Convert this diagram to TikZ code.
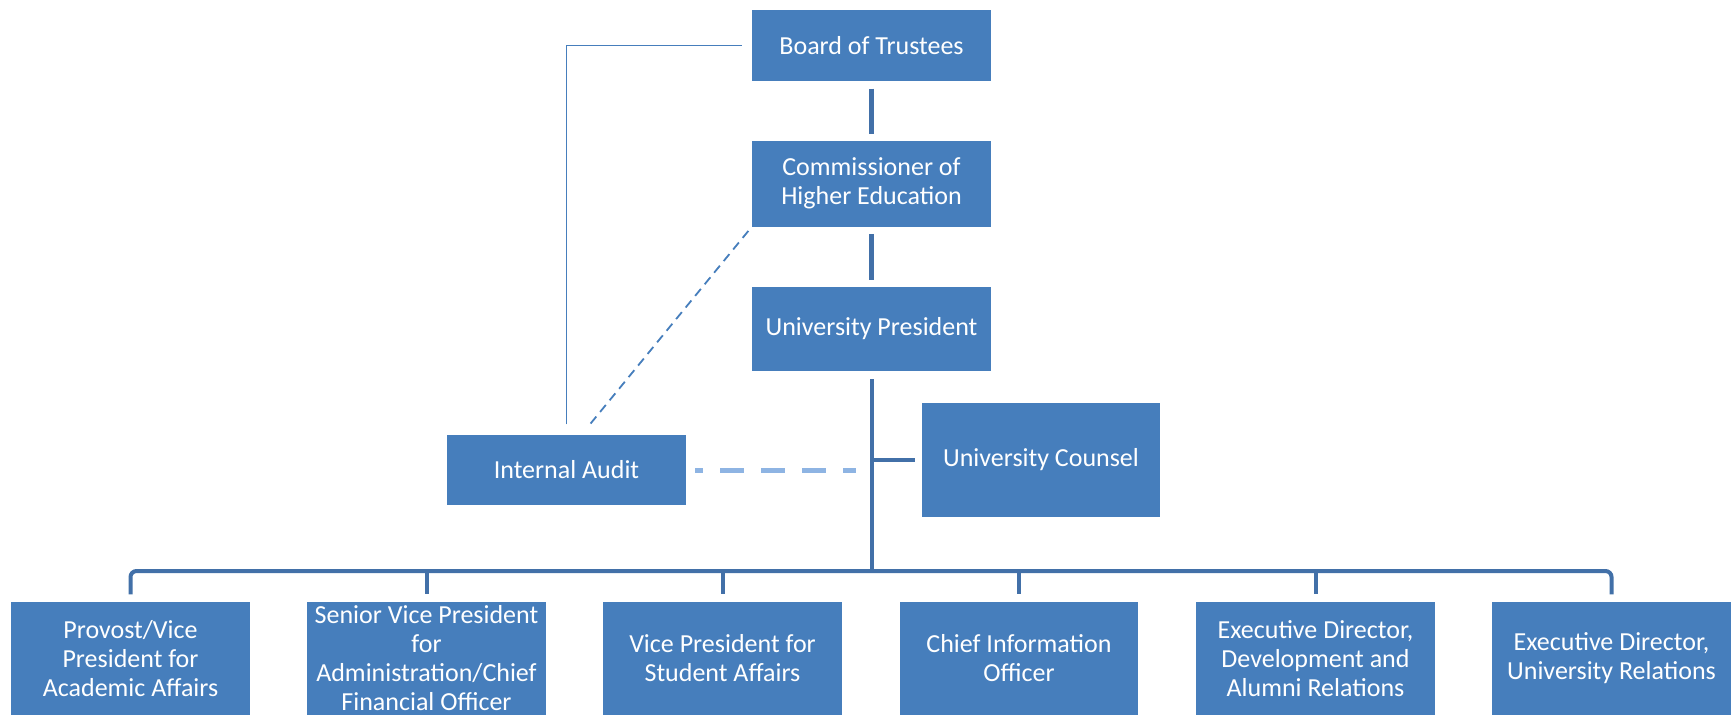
\documentclass[tikz,border=0pt]{standalone}
\usepackage{fontspec}
\setmainfont{Carlito}
\usepackage{xcolor}
\usepackage{tikz}
\usetikzlibrary{positioning}
\definecolor{boxblue}{RGB}{70,126,188}
\definecolor{linkblue}{RGB}{66,112,168}
\definecolor{paleblue}{RGB}{142,180,227}

\begin{document}
\begin{tikzpicture}[x=0.5pt, y=-0.5pt, box/.style={rectangle, draw=white, line width=0.6pt, fill=boxblue, text=white, align=center, minimum width=120pt, inner sep=2pt, font=\fontsize{13}{14.5}\selectfont}, link/.style={draw=linkblue, line width=2.5pt, shorten <=3pt, shorten >=3pt}, bus/.style={draw=linkblue, line width=2pt}, thinlink/.style={draw=boxblue, line width=0.9pt}, dotlink/.style={draw=boxblue, line width=0.9pt, dash pattern=on 4.5pt off 3pt}, advisory/.style={draw=paleblue, line width=2.5pt, dash pattern=on 12pt off 8.5pt, dash phase=8pt}]

    \clip (0,0) rectangle (1732,714);

    %Nodes
    \node[box, minimum height=36.5pt](board) at (871.5,45.5){Board of Trustees};
    \node[box, minimum height=43.5pt](commish)[below=28.5pt of board]{Commissioner of\\Higher Education};
    \node[box, minimum height=42.5pt](pres)[below=29pt of commish]{University President};
    \node[box, minimum height=36pt](audit) at (566.5,470){Internal Audit};
    \node[box, minimum height=58pt](ucounsel) at (1041,460){University Counsel};
    \coordinate (bus) at (871.5,571);

    \node[box, minimum height=57.5pt](vpaa) at (130.5,658.5){Provost/Vice\\President for\\Academic Affairs};
    \node[box, minimum height=57.5pt](svpa) at (426.5,658.5){Senior Vice President\\for\\Administration/Chief\\Financial Officer};
    \node[box, minimum height=57.5pt](vpsa) at (722.5,658.5){Vice President for\\Student Affairs};
    \node[box, minimum height=57.5pt](cio) at (1019,658.5){Chief Information\\Officer};
    \node[box, minimum height=57.5pt](edda) at (1315.5,658.5){Executive Director,\\Development and\\Alumni Relations};
    \node[box, minimum height=57.5pt](edur) at (1611.5,658.5){Executive Director,\\University Relations};

    %Lines
    \draw[link] (board) -- (commish);
    \draw[link] (commish) -- (pres);
    \draw[bus, shorten <=3.5pt] (pres) -- (bus);
    \draw[bus, rounded corners=3pt, shorten <=3pt, shorten >=3pt] (vpaa) |- (bus) -| (edur);
    \foreach \n in {svpa, vpsa, cio, edda}
        \draw[bus, shorten >=3pt] (\n |- bus) -- (\n);
    \draw[bus, shorten >=2.5pt] (ucounsel -| bus) -- (ucounsel);
    \draw[advisory, shorten <=4pt, shorten >=8pt] (audit) -- (audit -| bus);
    \draw[thinlink, shorten <=4.5pt, shorten >=4.5pt] (audit) |- (board);
    \draw[dotlink, shorten <=2pt, shorten >=4pt] (commish.south west) -- ([xshift=8pt]audit.north);

\end{tikzpicture}
\end{document}
